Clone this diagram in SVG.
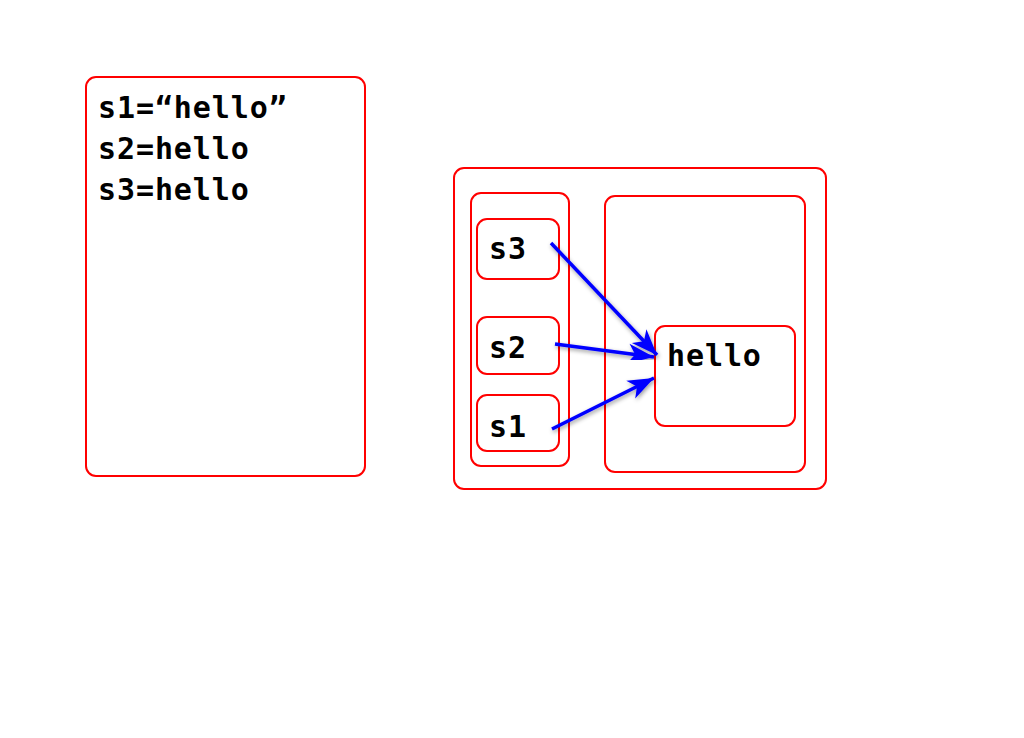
<svg xmlns="http://www.w3.org/2000/svg" width="1024" height="738" viewBox="0 0 1024 738">
  <style>
    .box { fill: none; stroke: #ff0000; stroke-width: 2; }
    .lbl { font-family: "DejaVu Sans Mono", "Liberation Mono", monospace; font-weight: bold; font-size: 30px; letter-spacing: 0.9px; fill: #000000; }
    .ref { stroke: #0000ff; stroke-width: 3.5; fill: none; marker-end: url(#head); filter: url(#shade); }
  </style>
  <defs>
    <marker id="head" markerUnits="userSpaceOnUse" viewBox="-28 -12 30 24" refX="0" refY="0" markerWidth="30" markerHeight="24" orient="auto">
      <path d="M0,0 L-26,-10 L-19,0 L-26,10 Z" fill="#0000ff"/>
    </marker>
    <filter id="shade" x="-20%" y="-20%" width="140%" height="140%">
      <feDropShadow dx="1" dy="2" stdDeviation="2" flood-color="#000000" flood-opacity="0.4"/>
    </filter>
  </defs>
  <rect width="1024" height="738" fill="#ffffff"/>

  <!-- variable table -->
  <g id="code">
    <rect class="box" x="86" y="77" width="279" height="399" rx="10"/>
    <text class="lbl" x="98" y="118">s1=“hello”</text>
    <text class="lbl" x="98" y="159">s2=hello</text>
    <text class="lbl" x="98" y="200">s3=hello</text>
  </g>

  <!-- memory -->
  <g id="memory">
    <rect class="box" x="454" y="168" width="372" height="321" rx="10"/>
  </g>
  <g id="stack">
    <rect class="box" x="471" y="193" width="98" height="273" rx="10"/>
  </g>
  <g id="s3">
    <rect class="box" x="477" y="219" width="82" height="60" rx="10"/>
    <text class="lbl" x="489" y="259">s3</text>
  </g>
  <g id="s2">
    <rect class="box" x="477" y="317" width="82" height="57" rx="10"/>
    <text class="lbl" x="489" y="358">s2</text>
  </g>
  <g id="s1">
    <rect class="box" x="477" y="395" width="82" height="56" rx="10"/>
    <text class="lbl" x="489" y="437">s1</text>
  </g>
  <g id="pool">
    <rect class="box" x="605" y="196" width="200" height="276" rx="10"/>
  </g>
  <g id="hello">
    <rect class="box" x="655" y="326" width="140" height="100" rx="10"/>
    <text class="lbl" x="667" y="366">hello</text>
  </g>

  <!-- references -->
  <g id="connectors">
    <line class="ref" x1="551" y1="243" x2="657" y2="355"/>
    <line class="ref" x1="555" y1="344" x2="654" y2="357"/>
    <line class="ref" x1="552" y1="429" x2="654" y2="378"/>
  </g>
</svg>
